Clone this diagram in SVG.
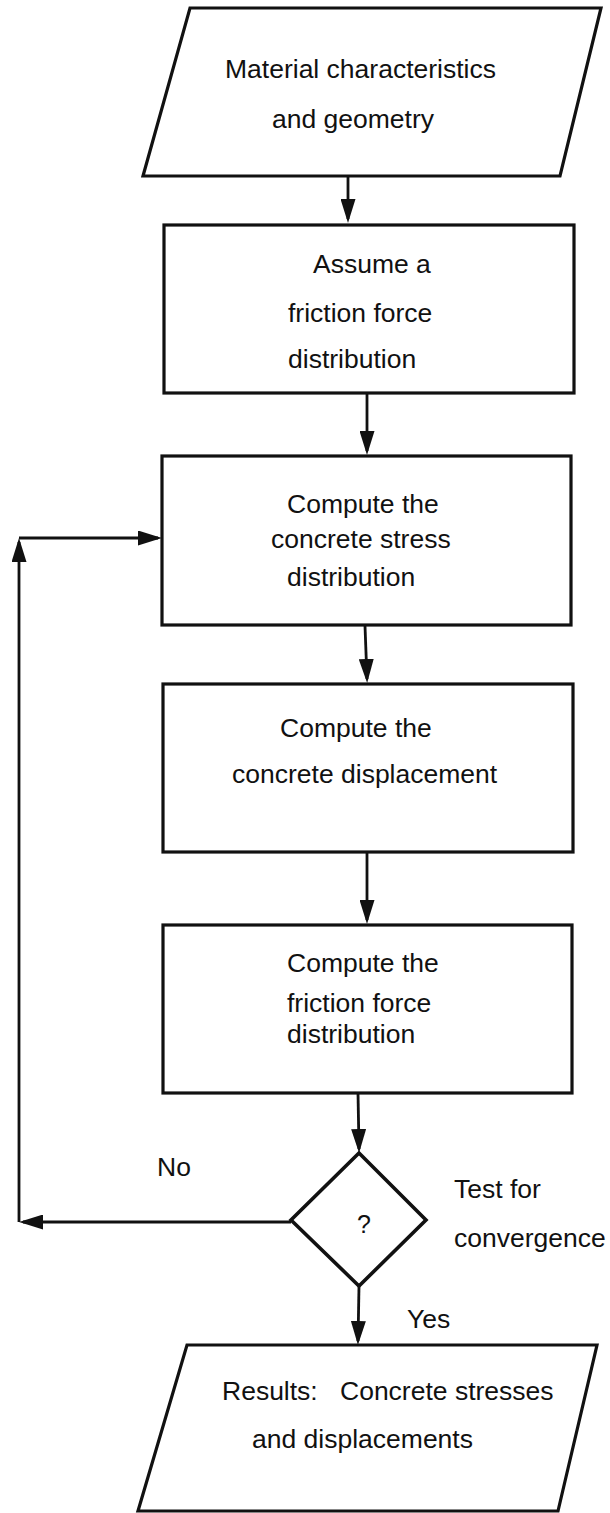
<svg xmlns="http://www.w3.org/2000/svg" width="610" height="1513" viewBox="0 0 610 1513">
  <style>
    .shape { fill: #ffffff; stroke: #111111; stroke-width: 3.2; stroke-linejoin: miter; }
    .diamond { fill: #ffffff; stroke: #111111; stroke-width: 3.6; }
    .flow { fill: none; stroke: #111111; stroke-width: 2.8; marker-end: url(#head); }
    .label { font-family: "Liberation Sans", Arial, Helvetica, sans-serif; font-size: 26.5px; fill: #111111; }
    .small { font-family: "Liberation Sans", Arial, Helvetica, sans-serif; font-size: 25px; fill: #111111; text-anchor: middle; }
  </style>
  <defs>
    <marker id="head" viewBox="0 0 24 15" markerWidth="24" markerHeight="15" refX="20" refY="7.5" orient="auto" markerUnits="userSpaceOnUse">
      <path d="M0,0 L24,7.5 L0,15 Z" fill="#111111"/>
    </marker>
  </defs>
  <rect width="610" height="1513" fill="#ffffff"/>

  <!-- connectors -->
  <g id="connectors">
    <path class="flow" d="M348,176 L348,219"/>
    <path class="flow" d="M367,393 L367,451"/>
    <path class="flow" d="M365,626 L367,679"/>
    <path class="flow" d="M367,852 L367,920"/>
    <path class="flow" d="M358,1093 L359,1149"/>
    <path class="flow" d="M359,1286 L358,1341"/>
    <!-- "No" loop back to the stress computation -->
    <path class="flow" d="M291,1222 L23,1222"/>
    <path class="flow" d="M19,1222 L19,542"/>
    <path class="flow" d="M19,538 L158,538"/>
  </g>

  <!-- input -->
  <g id="input">
    <polygon class="shape" points="190,8 601,8 560,176 143,176"/>
    <text class="label" x="225" y="78">Material characteristics</text>
    <text class="label" x="272" y="128">and geometry</text>
  </g>

  <g id="assume">
    <rect class="shape" x="164" y="225" width="410" height="168"/>
    <text class="label" x="313" y="273">Assume a</text>
    <text class="label" x="288" y="322">friction force</text>
    <text class="label" x="288" y="368">distribution</text>
  </g>

  <g id="stress">
    <rect class="shape" x="162" y="456" width="409" height="169"/>
    <text class="label" x="287" y="513">Compute the</text>
    <text class="label" x="271" y="548">concrete stress</text>
    <text class="label" x="287" y="586">distribution</text>
  </g>

  <g id="displacement">
    <rect class="shape" x="163" y="684" width="410" height="168"/>
    <text class="label" x="280" y="737">Compute the</text>
    <text class="label" x="232" y="783">concrete displacement</text>
  </g>

  <g id="friction">
    <rect class="shape" x="163" y="925" width="409" height="168"/>
    <text class="label" x="287" y="972">Compute the</text>
    <text class="label" x="287" y="1012">friction force</text>
    <text class="label" x="287" y="1043">distribution</text>
  </g>

  <g id="test">
    <polygon class="diamond" points="359,1153 426,1220 359,1286 291,1220"/>
    <text class="small" x="364" y="1233">?</text>
    <text class="label" x="454" y="1198">Test for</text>
    <text class="label" x="454" y="1247">convergence</text>
  </g>

  <g id="labels">
    <text class="label" x="157" y="1176">No</text>
    <text class="label" x="407" y="1328">Yes</text>
  </g>

  <g id="results">
    <polygon class="shape" points="187,1345 597,1345 558,1511 138,1511"/>
    <text class="label" x="222" y="1400">Results:</text>
    <text class="label" x="340" y="1400">Concrete stresses</text>
    <text class="label" x="252" y="1448">and displacements</text>
  </g>
</svg>
